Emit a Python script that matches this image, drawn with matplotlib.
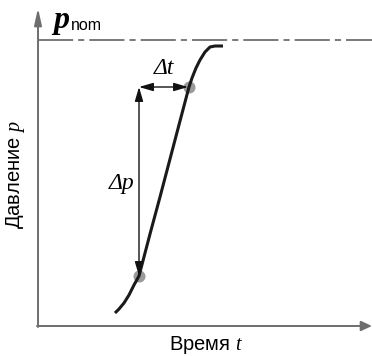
import matplotlib
matplotlib.use("Agg")
import matplotlib.pyplot as plt
from matplotlib.patches import FancyArrowPatch

plt.rcParams["mathtext.fontset"] = "custom"
plt.rcParams["mathtext.it"] = "Liberation Serif:italic"
plt.rcParams["mathtext.rm"] = "Liberation Sans"

# pressure rise curve (t, p in pixel-ish units from origin)
curve_t = [77, 81, 86, 91, 96, 101, 112, 122, 132, 142, 151, 154, 158, 162, 167, 172, 177, 185]
curve_p = [13, 17, 23, 31, 41, 50, 92, 129, 167, 205, 239, 248, 258, 266, 274, 279, 280, 280]
p_nom = 286
marks_t = [101, 151]
marks_p = [50, 239]
t_max, p_max = 334, 318

fig = plt.figure(figsize=(3.72, 3.56), dpi=100)
ax = fig.add_axes([0, 0, 1, 1])
ax.set_xlim(-38, 334)
ax.set_ylim(-30, 326)
ax.axis("off")

axcol = "#6e6e6e"
# axes with arrowheads
ax.annotate("", xy=(0, p_max), xytext=(0, -1),
            arrowprops=dict(arrowstyle="-|>,head_length=1.0,head_width=0.22",
                            color=axcol, lw=1.4, shrinkA=0, shrinkB=0))
ax.annotate("", xy=(t_max, 0), xytext=(-1, 0),
            arrowprops=dict(arrowstyle="-|>,head_length=0.65,head_width=0.3",
                            color=axcol, lw=1.4, shrinkA=0, shrinkB=0))

# nominal pressure line
ax.plot([0, t_max], [p_nom, p_nom], color="#555555", lw=1.1,
        dashes=(23, 3.3, 4, 3.3))

ax.plot(curve_t, curve_p, color="#1a1a1a", lw=2.2, solid_capstyle="butt",
        solid_joinstyle="round", zorder=3)
ax.scatter(marks_t, marks_p, s=75, color="#9a9a9a", zorder=2, linewidths=0)

ad = dict(arrowstyle="<|-|>,head_length=0.85,head_width=0.25", color="#111111",
          lw=1.0, shrinkA=0, shrinkB=0, mutation_scale=10)
ax.add_patch(FancyArrowPatch((marks_t[0], marks_p[0]),
                             (marks_t[0], marks_p[1]), zorder=4, **ad))
ax.add_patch(FancyArrowPatch((marks_t[0], marks_p[1]),
                             (marks_t[1] - 1, marks_p[1]), zorder=4, **ad))

serif = dict(family="Liberation Serif", style="italic", ha="center", va="center")
ax.text(84, 143, "Δp", fontsize=17, **serif)
ax.text(126, 257, "Δt", fontsize=17, **serif)
ax.text(15, 298, "p", fontsize=23, family="Liberation Serif", style="italic",
        weight="bold", ha="left", va="baseline")
ax.text(33, 296, "nom", fontsize=11.5, family="Liberation Sans",
        ha="left", va="baseline")
ax.text(168, -19, r"Время $t$", fontsize=14.5, family="Liberation Sans",
        ha="center", va="center")
ax.text(-22, 152, r"Давление $p$", fontsize=14.5, family="Liberation Sans",
        ha="center", va="center", rotation=90)

fig.savefig("out.png", dpi=100)
